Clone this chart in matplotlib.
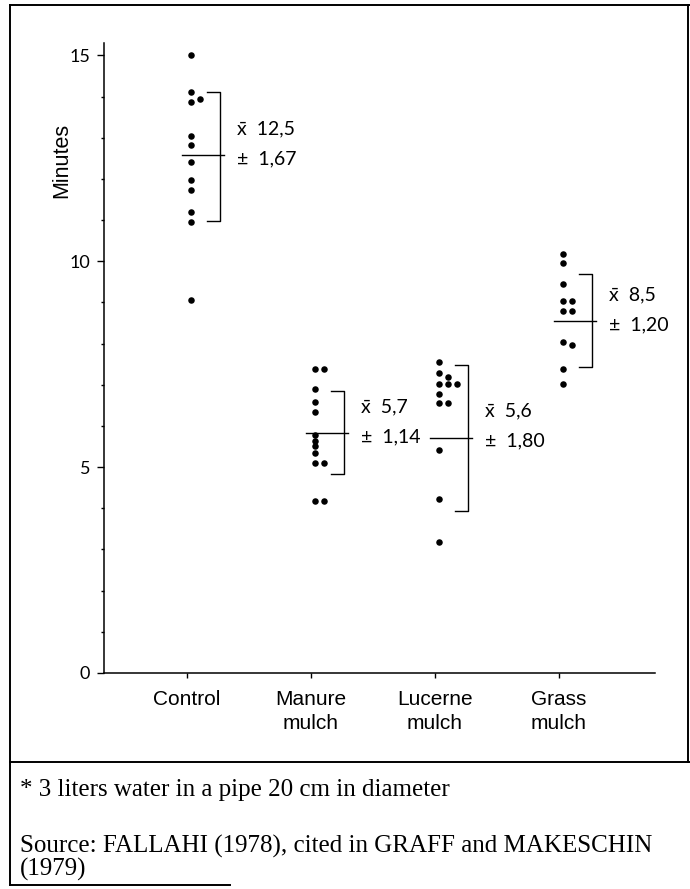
import matplotlib.pyplot as plt
from matplotlib.lines import Line2D
import numpy as np

# categories on the x axis
categories = ["Control", "Manure\nmulch", "Lucerne\nmulch", "Grass\nmulch"]

control_vals = [15.0, 14.12, 13.94, 13.86, 13.04, 12.82, 12.42, 11.97, 11.74, 11.2, 10.96, 9.05]
control_cols = [0, 0, 1, 0, 0, 0, 0, 0, 0, 0, 0, 0]
manure_vals = [7.39, 7.39, 6.9, 6.59, 6.35, 5.77, 5.64, 5.52, 5.35, 5.09, 5.09, 4.17, 4.17]
manure_cols = [0, 1, 0, 0, 0, 0, 0, 0, 0, 0, 1, 0, 1]
lucerne_vals = [7.55, 7.28, 7.2, 7.02, 7.02, 7.02, 6.78, 6.55, 6.55, 5.42, 4.23, 3.17]
lucerne_cols = [0, 0, 1, 0, 1, 2, 0, 0, 1, 0, 0, 0]
grass_vals = [10.17, 9.95, 9.44, 9.03, 9.03, 8.78, 8.78, 8.05, 7.97, 7.38, 7.03]
grass_cols = [0, 0, 0, 0, 1, 0, 1, 0, 1, 0, 0]

# mean line and bracket (mean +- sd) as drawn
mean_line = [12.57, 5.82, 5.71, 8.54]
bracket_hi = [14.12, 6.86, 7.47, 9.70]
bracket_lo = [10.97, 4.84, 3.94, 7.43]
mean_text = ["12,5", "5,7", "5,6", "8,5"]
sd_text = ["1,67", "1,14", "1,80", "1,20"]

groups = [(control_vals, control_cols), (manure_vals, manure_cols),
          (lucerne_vals, lucerne_cols), (grass_vals, grass_cols)]

thin = ["Lato", "DejaVu Sans"]

fig = plt.figure(figsize=(6.9, 8.89), dpi=100)
ax = fig.add_axes([0.1507, 0.2430, 0.7986, 0.7086])

xpos = np.arange(1, len(categories) + 1)
col_step = 0.075

for i, (vals, cols) in enumerate(groups):
    x0 = xpos[i] + 0.03
    ax.scatter(x0 + np.array(cols) * col_step, vals, s=22, color="black",
               zorder=3, linewidths=0)
    # mean line
    ax.plot([x0 - 0.07, x0 + 0.27], [mean_line[i]] * 2, color="black", lw=1.0)
    # bracket
    xb = x0 + 0.235
    xt = x0 + 0.13
    ax.plot([xt, xb, xb, xt], [bracket_hi[i], bracket_hi[i], bracket_lo[i], bracket_lo[i]],
            color="black", lw=1.0, solid_joinstyle="round")
    ax.text(x0 + 0.37, mean_line[i] + 0.65, "x\u0304  " + mean_text[i], fontsize=14,
            family=thin, va="center", ha="left")
    ax.text(x0 + 0.37, mean_line[i] - 0.08, "\u00b1  " + sd_text[i], fontsize=14,
            family=thin, va="center", ha="left")

ax.set_xlim(0.331, 4.774)
ax.set_ylim(0, 15.3)
ax.spines["top"].set_visible(False)
ax.spines["right"].set_visible(False)
ax.spines["left"].set_linewidth(1.1)
ax.spines["bottom"].set_linewidth(1.1)

ax.set_yticks([0, 5, 10, 15])
ax.set_yticklabels(["0", "5", "10", "15"], family=thin, fontsize=13)
ax.set_yticks(np.arange(0, 16, 1), minor=True)
ax.tick_params(axis="y", which="major", length=5, width=1, pad=5, direction="out")
ax.tick_params(axis="y", which="minor", length=2.5, width=1, direction="out")

ax.set_xticks(xpos)
ax.set_xticklabels(categories, family="Liberation Sans", fontsize=15, linespacing=1.3)
ax.tick_params(axis="x", length=3.6, width=1, pad=9, direction="out")

ax.text(-0.076, 12.45, "Minutes", transform=ax.get_yaxis_transform(), rotation=90,
        family="Liberation Sans", fontsize=15.5, ha="center", va="center")

# frame around the figure and note box
W, H = 690.0, 889.0
def fline(xs, ys, lw=1.4):
    fig.add_artist(Line2D([x / W for x in xs], [1 - y / H for y in ys],
                          transform=fig.transFigure, color="black", lw=lw))

fline([10, 10], [5, 885])
fline([10, 690], [5, 5])
fline([688, 688], [5, 762])
fline([10, 690], [762, 762])
fline([10, 230], [885, 885])

serif = "Liberation Serif"
fig.text(20 / W, 1 - 790 / H, "* 3 liters water in a pipe 20 cm in diameter",
         family=serif, fontsize=18, va="center", ha="left")
fig.text(20 / W, 1 - 835 / H, "Source: FALLAHI (1978), cited in GRAFF and MAKESCHIN\n(1979)",
         family=serif, fontsize=18, va="top", ha="left", linespacing=1.0)

fig.savefig("out.png", dpi=100)
